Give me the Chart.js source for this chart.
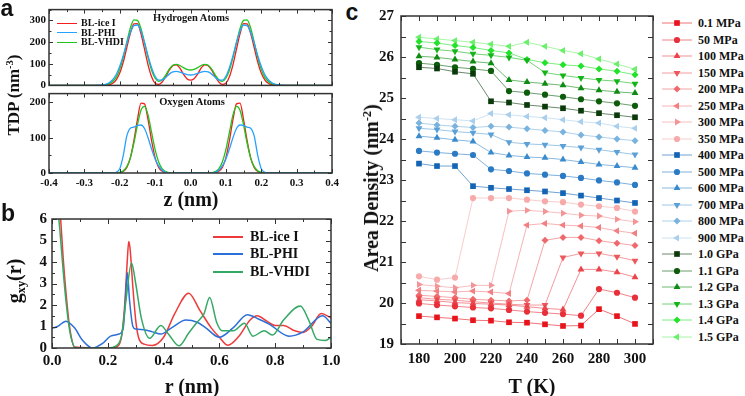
<!DOCTYPE html>
<html>
<head>
<meta charset="utf-8">
<title>TDP, g(r) and area density</title>
<script src="https://cdn.jsdelivr.net/npm/chart.js@4.4.1/dist/chart.umd.min.js"></script>
<style>
  html, body { margin: 0; padding: 0; background: #fff; }
  #fig { position: relative; width: 745px; height: 396px; overflow: hidden;
         font-family: 'Liberation Serif', 'Times New Roman', serif; font-weight: bold; color: #111; }
  #fig canvas { position: absolute; }
  .t { position: absolute; white-space: nowrap; line-height: 1; transform: translate(-50%, -50%); }
  .v { transform: translate(-50%, -50%) rotate(-90deg); }
  .tag { font-family: 'Liberation Sans', Arial, sans-serif; font-size: 23px; }
  .sup { font-size: 0.62em; position: relative; top: -0.55em; }
  .sub { font-size: 0.62em; position: relative; top: 0.3em; }
  .row { position: absolute; display: flex; align-items: center; white-space: nowrap; line-height: 1; transform: translateY(-50%); }
  .ln { display: inline-block; height: 0; }
</style>
</head>
<body>
<div id="fig">
  <canvas id="cH" width="345" height="95" style="left:0;top:0"></canvas>
  <canvas id="cO" width="345" height="129" style="left:0;top:84px"></canvas>
  <canvas id="cB" width="345" height="191" style="left:0;top:205px"></canvas>
  <canvas id="cC" width="300" height="396" style="left:360px;top:0"></canvas>

  <!-- panel a -->
  <div class="t tag" style="left:7px;top:8px">a</div>
  <div class="t v" style="left:13px;top:95px;font-size:17px">TDP (nm<span class="sup">-3</span>)</div>
  <div class="t" style="left:191px;top:18px;font-size:10.5px">Hydrogen Atoms</div>
  <div class="t" style="left:192px;top:102px;font-size:10.5px">Oxygen Atoms</div>
  <div class="row" style="left:57px;top:23px;font-size:10px"><span class="ln" style="width:20px;border-top:1.5px solid #f41c1c;margin-right:4px"></span>BL-ice I</div>
  <div class="row" style="left:57px;top:32.5px;font-size:10px"><span class="ln" style="width:20px;border-top:1.5px solid #26a2ff;margin-right:4px"></span>BL-PHI</div>
  <div class="row" style="left:57px;top:42px;font-size:10px"><span class="ln" style="width:20px;border-top:1.5px solid #1fc41f;margin-right:4px"></span>BL-VHDI</div>
  <div class="t" style="left:191px;top:199px;font-size:20px">z (nm)</div>

  <!-- panel b -->
  <div class="t tag" style="left:8px;top:213px">b</div>
  <div class="t v" style="left:14px;top:281px;font-size:20px">g<span class="sub">xy</span>(r)</div>
  <div class="row" style="left:213px;top:236.5px;font-size:14px"><span class="ln" style="width:30px;border-top:2px solid #ee3a3a;margin-right:7px"></span>BL-ice I</div>
  <div class="row" style="left:213px;top:254px;font-size:14px"><span class="ln" style="width:30px;border-top:2px solid #2b6fd8;margin-right:7px"></span>BL-PHI</div>
  <div class="row" style="left:213px;top:272px;font-size:14px"><span class="ln" style="width:30px;border-top:2px solid #34a865;margin-right:7px"></span>BL-VHDI</div>
  <div class="t" style="left:192px;top:386px;font-size:20px">r (nm)</div>

  <!-- panel c -->
  <div class="t tag" style="left:352px;top:12px">c</div>
  <div class="t v" style="left:371px;top:188px;font-size:20px">Area Density (nm<span class="sup">-2</span>)</div>
  <div class="t" style="left:532px;top:386px;font-size:20px">T (K)</div>
  <div id="legC"></div>
</div>

<script>
// ── panel a: TDP profiles along z ─────────────────────────────────────────
const zA = [-0.40, -0.30, -0.27, -0.26, -0.25, -0.24, -0.23, -0.22, -0.21, -0.20,
  -0.19, -0.18, -0.17, -0.16, -0.15, -0.14, -0.13, -0.12, -0.11, -0.10,
  -0.09, -0.08, -0.07, -0.06, -0.05, -0.04, -0.03, -0.02, -0.01, 0.00,
  0.01, 0.02, 0.03, 0.04, 0.05, 0.06, 0.07, 0.08, 0.09, 0.10,
  0.11, 0.12, 0.13, 0.14, 0.15, 0.16, 0.17, 0.18, 0.19, 0.20,
  0.21, 0.22, 0.23, 0.24, 0.25, 0.26, 0.27, 0.30, 0.40];

// hydrogen atoms
const hRed = [0, 0, 0, 0, 0, 1, 3, 10, 26, 57, 108, 175, 240, 284, 285, 238, 168, 95, 40, 10,
  5, 16, 40, 70, 91, 95, 80, 52, 31, 24,
  31, 52, 80, 95, 91, 70, 40, 16, 5, 10, 40, 95, 168, 238, 285, 284, 240, 175, 108, 57,
  26, 10, 3, 1, 0, 0, 0, 0, 0];
const hBlue = [0, 0, 0, 1, 2, 5, 12, 26, 50, 88, 138, 195, 245, 276, 279, 250, 198, 136, 82, 42,
  24, 25, 37, 52, 62, 65, 61, 55, 50, 48,
  50, 55, 61, 65, 62, 52, 37, 25, 24, 42, 82, 136, 198, 250, 279, 276, 245, 195, 138, 88,
  50, 26, 12, 5, 2, 1, 0, 0, 0];
const hGreen = [0, 0, 0, 0, 1, 3, 8, 18, 38, 75, 130, 200, 265, 303, 300, 262, 198, 128, 70, 33,
  19, 26, 48, 75, 93, 97, 92, 82, 74, 71,
  74, 82, 92, 97, 93, 75, 48, 26, 19, 33, 70, 128, 198, 262, 300, 303, 265, 200, 130, 75,
  38, 18, 8, 3, 1, 0, 0, 0, 0];

// oxygen atoms
const oRed = [0, 0, 0, 0, 0, 0, 0, 0, 0, 1, 4, 16, 43, 92, 151, 198, 196, 151, 92, 43,
  16, 5, 1, 0, 0, 0, 0, 0, 0, 0,
  0, 0, 0, 0, 0, 0, 1, 5, 16, 43, 92, 151, 196, 198, 151, 92, 43, 16, 4, 1,
  0, 0, 0, 0, 0, 0, 0, 0, 0];
const oBlue = [0, 0, 0, 0, 0, 0, 0, 0, 2, 12, 50, 105, 127, 130, 135, 136, 126, 100, 68, 40,
  20, 8, 2, 0, 0, 0, 0, 0, 0, 0,
  0, 0, 0, 0, 0, 0, 2, 8, 20, 40, 68, 100, 126, 136, 135, 130, 127, 105, 50, 12,
  2, 0, 0, 0, 0, 0, 0, 0, 0];
const oGreen = [0, 0, 0, 0, 0, 0, 0, 0, 0, 2, 6, 18, 43, 85, 136, 178, 189, 164, 115, 66,
  31, 12, 4, 1, 0, 0, 0, 0, 0, 0,
  0, 0, 0, 0, 0, 1, 4, 12, 31, 66, 115, 164, 189, 178, 136, 85, 43, 18, 6, 2,
  0, 0, 0, 0, 0, 0, 0, 0, 0];

// ── panel b: g_xy(r) ──────────────────────────────────────────────────────
const rRed = [0.00, 0.02, 0.03, 0.04, 0.05, 0.06, 0.07, 0.08, 0.20, 0.23, 0.25, 0.26, 0.27, 0.275,
  0.28, 0.29, 0.30, 0.31, 0.33, 0.36, 0.40, 0.44, 0.49, 0.53, 0.57, 0.60, 0.63, 0.67,
  0.71, 0.735, 0.77, 0.80, 0.83, 0.87, 0.90, 0.93, 0.965, 1.00];
const gRed = [14, 8.5, 6.2, 4.2, 2.6, 1.3, 0.45, 0.05, 0, 0.05, 0.6, 1.9, 4.1, 4.95,
  4.6, 2.8, 1.3, 0.5, 0.18, 0.12, 0.5, 1.6, 2.55, 1.75, 0.95, 0.5, 0.13, 0.55,
  1.3, 1.5, 1.25, 1.05, 1.05, 0.8, 0.72, 1.0, 1.6, 1.4];

const rBlue = [0.00, 0.02, 0.05, 0.08, 0.11, 0.145, 0.18, 0.21, 0.24, 0.255, 0.262, 0.27, 0.278,
  0.29, 0.30, 0.33, 0.36, 0.39, 0.43, 0.48, 0.52, 0.55, 0.60, 0.65, 0.70, 0.74, 0.78,
  0.85, 0.90, 0.97, 1.00];
const gBlue = [0.92, 1.0, 1.25, 0.95, 0.35, 0.0, 0.2, 0.55, 0.65, 0.9, 2.0, 3.5, 2.2,
  1.0, 0.88, 0.85, 0.75, 0.65, 0.95, 1.3, 1.2, 0.95, 0.5, 0.95, 1.55, 1.35, 1.1,
  0.55, 0.75, 1.5, 1.15];

const rGreen = [0.00, 0.02, 0.03, 0.04, 0.05, 0.06, 0.07, 0.085, 0.20, 0.23, 0.25, 0.265, 0.285,
  0.30, 0.32, 0.35, 0.39, 0.42, 0.455, 0.49, 0.52, 0.545, 0.565, 0.59, 0.61, 0.65, 0.69,
  0.72, 0.76, 0.79, 0.83, 0.89, 0.92, 0.95, 0.98, 1.00];
const gGreen = [12, 6.8, 5.2, 3.6, 2.2, 1.1, 0.4, 0.0, 0.0, 0.1, 0.6, 2.2, 3.95,
  3.0, 1.4, 0.45, 1.05, 0.6, 0.1, 0.7, 1.2, 1.6, 2.35, 1.2, 0.8, 0.8, 1.15,
  0.55, 0.8, 0.6, 1.3, 1.95, 1.3, 0.4, 0.35, 0.5];

// ── panel c: area density vs T for each pressure ──────────────────────────
const T = [180, 190, 200, 210, 220, 230, 240, 250, 260, 270, 280, 290, 300];
const p01  = [19.68, 19.65, 19.62, 19.58, 19.57, 19.53, 19.52, 19.48, 19.44, 19.45, 19.85, 19.68, 19.49];
const p50  = [19.99, 19.95, 19.92, 19.89, 19.87, 19.83, 19.79, 19.76, 19.73, 19.69, 20.34, 20.25, 20.13];
const p100 = [20.08, 20.05, 20.01, 19.99, 19.97, 19.95, 19.91, 19.87, 19.84, 20.82, 20.82, 20.75, 20.63];
const p150 = [20.13, 20.09, 20.07, 20.03, 20.00, 19.97, 19.95, 19.95, 21.11, 21.21, 21.21, 21.13, 21.03];
const p200 = [20.19, 20.16, 20.13, 20.09, 20.07, 20.05, 20.07, 21.53, 21.60, 21.60, 21.52, 21.46, 21.40];
const p250 = [20.31, 20.29, 20.27, 20.29, 20.27, 20.23, 21.90, 21.94, 21.90, 21.88, 21.84, 21.76, 21.70];
const p300 = [20.45, 20.41, 20.37, 20.43, 20.43, 22.24, 22.26, 22.23, 22.19, 22.14, 22.12, 22.04, 21.98];
const p350 = [20.65, 20.57, 20.62, 22.56, 22.56, 22.56, 22.52, 22.48, 22.46, 22.40, 22.36, 22.32, 22.23];
const p400 = [23.40, 23.34, 23.34, 22.85, 22.81, 22.78, 22.75, 22.72, 22.68, 22.62, 22.56, 22.50, 22.44];
const p500 = [23.71, 23.67, 23.64, 23.61, 23.26, 23.22, 23.16, 23.13, 23.10, 23.05, 22.99, 22.94, 22.88];
const p600 = [24.07, 24.03, 23.98, 23.94, 23.67, 23.60, 23.56, 23.54, 23.50, 23.44, 23.38, 23.34, 23.30];
const p700 = [24.26, 24.23, 24.18, 24.15, 24.11, 23.92, 23.88, 23.86, 23.83, 23.79, 23.74, 23.68, 23.62];
const p800 = [24.39, 24.34, 24.31, 24.28, 24.31, 24.29, 24.25, 24.21, 24.17, 24.10, 24.05, 24.00, 23.96];
const p900 = [24.53, 24.50, 24.47, 24.44, 24.62, 24.59, 24.55, 24.52, 24.47, 24.42, 24.39, 24.31, 24.26];
const g10  = [25.75, 25.72, 25.64, 25.59, 24.92, 24.89, 24.83, 24.79, 24.75, 24.69, 24.63, 24.58, 24.53];
const g11  = [25.85, 25.81, 25.75, 25.71, 25.66, 25.17, 25.13, 25.08, 25.03, 24.97, 24.92, 24.87, 24.81];
const g12  = [26.02, 25.99, 25.94, 25.89, 25.85, 25.44, 25.39, 25.35, 25.31, 25.24, 25.19, 25.15, 25.12];
const g13  = [26.24, 26.18, 26.14, 26.08, 26.04, 25.99, 25.92, 25.62, 25.55, 25.49, 25.44, 25.41, 25.35];
const g14  = [26.38, 26.34, 26.28, 26.23, 26.16, 26.10, 25.94, 25.86, 25.81, 25.78, 25.71, 25.65, 25.57];
const g15  = [26.48, 26.44, 26.40, 26.36, 26.31, 26.26, 26.36, 26.26, 26.16, 26.08, 25.95, 25.83, 25.70];

const LEG_C = ['0.1 MPa', '50 MPa', '100 MPa', '150 MPa', '200 MPa', '250 MPa', '300 MPa', '350 MPa',
  '400 MPa', '500 MPa', '600 MPa', '700 MPa', '800 MPa', '900 MPa',
  '1.0 GPa', '1.1 GPa', '1.2 GPa', '1.3 GPa', '1.4 GPa', '1.5 GPa'];
const SERIES_C = [p01, p50, p100, p150, p200, p250, p300, p350, p400, p500, p600, p700, p800, p900,
  g10, g11, g12, g13, g14, g15];
const STYLE_C = ['rect', 'circle', 'up', 'down', 'diamond', 'left', 'right', 'circle',
  'rect', 'circle', 'up', 'down', 'diamond', 'left',
  'rect', 'circle', 'up', 'down', 'diamond', 'left'];
const COL_C = ['#e8141c', '#e8303a', '#eb454c', '#ed585d', '#ef696c', '#f27f82', '#f49496', '#f7aaaa',
  '#1364b4', '#2a7bc3', '#3b8bcc', '#5ba0d6', '#7ab3de', '#aacfed',
  '#0a3a0a', '#0c5c0c', '#0f8a12', '#15b51a', '#22e22a', '#6cf06c'];

const PS = { rect: 'rect', circle: 'circle', up: 'triangle', down: 'triangle', left: 'triangle', right: 'triangle', diamond: 'rectRot' };
const ROT = { up: 0, down: 180, left: 270, right: 90 };
const RAD = { rect: 4, circle: 3.1, up: 4, down: 4, left: 4, right: 4, diamond: 3.5 };

Chart.defaults.font.family = "'Liberation Serif', 'Times New Roman', serif";
Chart.defaults.font.weight = 'bold';
Chart.defaults.color = '#111';

const isStep = (v, step) => Math.abs(v / step - Math.round(v / step)) < 1e-6;

// Box round the plot area + inward ticks on all four sides.
const frame = {
  id: 'frame',
  afterDatasetsDraw(chart, args, o) {
    const { ctx, chartArea: a } = chart;
    const sx = chart.scales.x, sy = chart.scales.y;
    ctx.save();
    ctx.strokeStyle = '#333';
    ctx.lineWidth = 1;
    ctx.beginPath();
    sx.ticks.forEach((t) => {
      const p = Math.round(sx.getPixelForValue(t.value)) + 0.5;
      const l = isStep(t.value, o.xStep) ? o.major : o.minor;
      ctx.moveTo(p, a.bottom); ctx.lineTo(p, a.bottom - l);
      ctx.moveTo(p, a.top); ctx.lineTo(p, a.top + l);
    });
    sy.ticks.forEach((t) => {
      const p = Math.round(sy.getPixelForValue(t.value)) + 0.5;
      const l = isStep(t.value, o.yStep) ? o.major : o.minor;
      ctx.moveTo(a.left, p); ctx.lineTo(a.left + l, p);
      ctx.moveTo(a.right, p); ctx.lineTo(a.right - l, p);
    });
    ctx.stroke();
    ctx.lineWidth = 1.5;
    ctx.strokeRect(a.left, a.top, a.right - a.left, a.bottom - a.top);
    ctx.restore();
  },
};

const curve = (xs, ys, color, w) => ({
  data: xs.map((x, i) => ({ x, y: ys[i] })),
  borderColor: color,
  borderWidth: w,
  pointRadius: 0,
  cubicInterpolationMode: 'monotone',
  fill: false,
});

const noGrid = { display: false, drawTicks: false };
const noBorder = { display: false };

function chartAB(id, datasets, o) {
  return new Chart(document.getElementById(id), {
    type: 'line',
    data: { datasets },
    options: {
      responsive: false,
      animation: false,
      layout: { padding: o.padding },
      plugins: {
        legend: { display: false },
        tooltip: { enabled: false },
        frame: { xStep: o.xLab, yStep: o.yLab, major: o.major, minor: o.minor },
      },
      scales: {
        x: {
          type: 'linear', min: o.xMin, max: o.xMax,
          grid: noGrid, border: noBorder,
          ticks: {
            display: o.xShow, stepSize: o.xStep, autoSkip: false, includeBounds: false,
            maxRotation: 0, padding: o.xPad, font: { size: o.font },
            callback: (v) => (isStep(v, o.xLab) ? (Math.abs(v) < 1e-9 ? 0 : v).toFixed(1) : ''),
          },
          afterFit: (s) => { s.height = o.xH; },
        },
        y: {
          min: o.yMin, max: o.yMax,
          grid: noGrid, border: noBorder,
          ticks: {
            stepSize: o.yStep, autoSkip: false, includeBounds: false, padding: o.yPad,
            font: { size: o.font },
            callback: (v) => (isStep(v, o.yLab) ? String(Math.round(v)) : ''),
          },
          afterFit: (s) => { s.width = o.yW; },
        },
      },
    },
    plugins: [frame],
  });
}

const RED_A = '#f41c1c', BLUE_A = '#26a2ff', GREEN_A = '#1fc41f';
const RED_B = '#ee3a3a', BLUE_B = '#2b6fd8', GREEN_B = '#34a865';

// a, hydrogen
chartAB('cH', [curve(zA, hBlue, BLUE_A, 1.3), curve(zA, hGreen, GREEN_A, 1.3), curve(zA, hRed, RED_A, 1.3)], {
  padding: { top: 6, right: 13, bottom: 6, left: 0 },
  xMin: -0.4, xMax: 0.4, xStep: 0.05, xLab: 0.1, xShow: false, xPad: 3, xH: 0,
  yMin: 0, yMax: 350, yStep: 50, yLab: 100, yPad: 3, yW: 49,
  font: 11, major: 4, minor: 2.5,
});
// a, oxygen
chartAB('cO', [curve(zA, oBlue, BLUE_A, 1.3), curve(zA, oGreen, GREEN_A, 1.3), curve(zA, oRed, RED_A, 1.3)], {
  padding: { top: 6, right: 13, bottom: 0, left: 0 },
  xMin: -0.4, xMax: 0.4, xStep: 0.05, xLab: 0.1, xShow: true, xPad: 4, xH: 40,
  yMin: 0, yMax: 225, yStep: 50, yLab: 100, yPad: 3, yW: 49,
  font: 11, major: 4, minor: 2.5,
});
// b
chartAB('cB', [curve(rGreen, gGreen, GREEN_B, 1.5), curve(rBlue, gBlue, BLUE_B, 1.5), curve(rRed, gRed, RED_B, 1.5)], {
  padding: { top: 14, right: 14, bottom: 0, left: 0 },
  xMin: 0, xMax: 1, xStep: 0.1, xLab: 0.2, xShow: true, xPad: 4, xH: 48,
  yMin: 0, yMax: 6, yStep: 0.5, yLab: 1, yPad: 5, yW: 52,
  font: 15, major: 5, minor: 3,
});

// c
const dsC = SERIES_C.map((vals, i) => {
  const st = STYLE_C[i];
  return {
    label: LEG_C[i],
    data: T.map((t, k) => ({ x: t, y: vals[k] })),
    borderColor: COL_C[i] + '99',
    borderWidth: 1,
    tension: 0,
    pointStyle: PS[st],
    pointRotation: ROT[st] || 0,
    pointRadius: RAD[st],
    pointBackgroundColor: COL_C[i],
    pointBorderColor: COL_C[i],
    pointBorderWidth: 0,
  };
});

new Chart(document.getElementById('cC'), {
  type: 'line',
  data: { datasets: dsC },
  options: {
    responsive: false,
    animation: false,
    layout: { padding: { top: 13, right: 7, bottom: 0, left: 0 } },
    plugins: {
      legend: { display: false },
      tooltip: { enabled: false },
      frame: { xStep: 10, yStep: 0.5, major: 5, minor: 5 },
    },
    scales: {
      x: {
        type: 'linear', min: 170, max: 310,
        grid: noGrid, border: noBorder,
        ticks: {
          stepSize: 10, autoSkip: false, maxRotation: 0, padding: 6, font: { size: 15 },
          callback: (v) => (v >= 180 && v <= 300 && (v - 180) % 20 === 0 ? String(v) : ''),
        },
        afterFit: (s) => { s.height = 52; },
      },
      y: {
        min: 19, max: 27,
        grid: noGrid, border: noBorder,
        ticks: {
          stepSize: 0.5, autoSkip: false, padding: 7, font: { size: 15 },
          callback: (v) => (isStep(v, 1) ? String(Math.round(v)) : ''),
        },
        afterFit: (s) => { s.width = 41; },
      },
    },
  },
  plugins: [frame],
});

// Legend of panel c: line + marker glyph, then the pressure.
function glyph(st, color) {
  const cx = 15, cy = 6, r = RAD[st];
  const pts = (angles) => angles.map((d) => {
    const t = d * Math.PI / 180;
    return (cx + r * Math.sin(t)).toFixed(2) + ',' + (cy - r * Math.cos(t)).toFixed(2);
  }).join(' ');
  let m;
  if (st === 'circle') m = `<circle cx="${cx}" cy="${cy}" r="${r}" fill="${color}"/>`;
  else if (st === 'rect') {
    const h = r * Math.SQRT1_2;
    m = `<rect x="${cx - h}" y="${cy - h}" width="${2 * h}" height="${2 * h}" fill="${color}"/>`;
  } else if (st === 'diamond') m = `<polygon points="${pts([0, 90, 180, 270])}" fill="${color}"/>`;
  else { const a = ROT[st]; m = `<polygon points="${pts([a, a + 120, a + 240])}" fill="${color}"/>`; }
  return `<svg width="30" height="12" viewBox="0 0 30 12"><line x1="0" y1="${cy}" x2="30" y2="${cy}" stroke="${color}" stroke-opacity="0.6" stroke-width="1"/>${m}</svg>`;
}

const legC = document.getElementById('legC');
LEG_C.forEach((name, i) => {
  const row = document.createElement('div');
  row.className = 'row';
  row.style.left = '662px';
  row.style.top = (23 + 16.5 * i) + 'px';
  row.style.fontSize = '12px';
  row.innerHTML = glyph(STYLE_C[i], COL_C[i]) + '<span style="margin-left:6px">' + name + '</span>';
  legC.appendChild(row);
});
</script>
</body>
</html>
